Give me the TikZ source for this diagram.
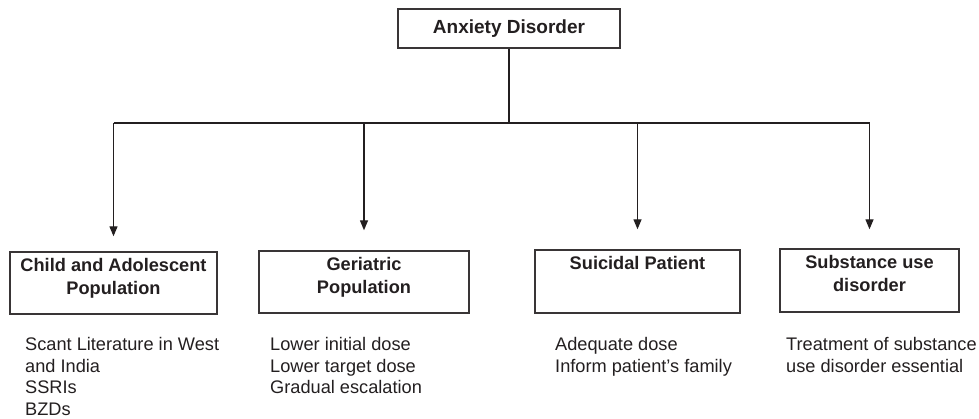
\documentclass[tikz,border=0pt]{standalone}
\usepackage{fontspec}
\setmainfont{Liberation Sans}
\usetikzlibrary{arrows.meta}
\definecolor{ink}{HTML}{231F20}
\begin{document}
\begin{tikzpicture}[x=1pt,y=-1pt,
  box/.style={draw=ink!90, line width=1.4pt, inner sep=0pt},
  ln/.style={draw=ink, line width=1.3pt},
  arr/.style={ln, -{Triangle[length=10pt,width=8pt]}},
  lbl/.style={inner sep=0pt, align=center, text=ink, font=\bfseries\fontsize{18.2}{22.5}\selectfont},
  txt/.style={inner sep=0pt, align=left, text=ink, anchor=north west, font=\fontsize{18.2}{21.7}\selectfont}]
\useasboundingbox (0,0) rectangle (979,418);
% boxes
\node[box, minimum width=222pt, minimum height=39pt, text=ink, font=\bfseries\fontsize{19}{22}\selectfont] (top) at (509,28.5) {Anxiety Disorder};
\node[box, minimum width=207pt, minimum height=62pt] (child) at (113.5,283) {};
\node[box, minimum width=210pt, minimum height=62pt] (ger) at (364,282) {};
\node[box, minimum width=205pt, minimum height=63pt] (sui) at (637.5,281.5) {};
\node[box, minimum width=179pt, minimum height=63pt] (sub) at (869.5,280.5) {};
% box labels
\node[lbl, anchor=north] (childlbl) at ([yshift=-7pt]child.north) {Child and Adolescent\\Population};
\node[lbl, anchor=north] (gerlbl) at ([yshift=-7pt]ger.north) {Geriatric\\Population};
\node[lbl, anchor=north] (suilbl) at ([yshift=-7pt]sui.north) {Suicidal Patient};
\node[lbl, anchor=north] (sublbl) at ([yshift=-7pt]sub.north) {Substance use\\disorder};
% texts below
\node[txt] (childtxt) at (25,337) {Scant Literature in West\\and India\\SSRIs\\BZDs};
\node[txt] (gertxt) at (270,337) {Lower initial dose\\Lower target dose\\Gradual escalation};
\node[txt] (suitxt) at (555,337) {Adequate dose\\Inform patient’s family};
\node[txt] (subtxt) at (786,337) {Treatment of substance\\use disorder essential};
% connectors
\coordinate (j) at (509,123);
\draw[ln] (top.south) -- (j);
\draw[ln] (child.north |- j) -- (sub.north |- j);
\draw[arr] (child.north |- j) -- ([yshift=15pt]child.north);
\draw[arr] (ger.north |- j) -- ([yshift=20pt]ger.north);
\draw[arr] (sui.north |- j) -- ([yshift=20pt]sui.north);
\draw[arr] (sub.north |- j) -- ([yshift=19pt]sub.north);
\end{tikzpicture}
\end{document}
